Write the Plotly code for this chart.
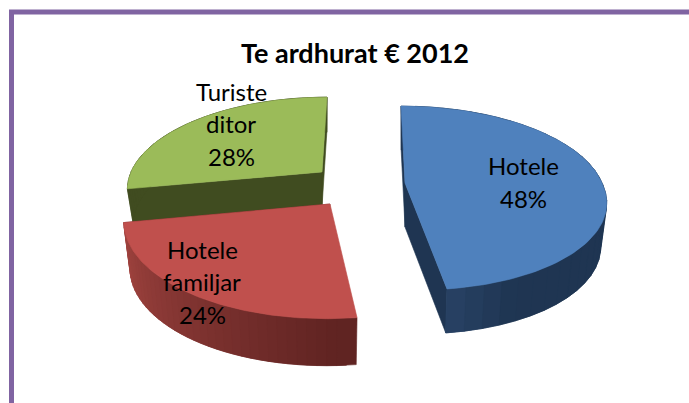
import numpy as np
import plotly.graph_objects as go

# Data
categories = ["Hotele", "Hotele familjar", "Turiste ditor"]
shares = [48, 24, 28]
chart_title = "Te ardhurat € 2012"

# Projection and style of each exploded slice (pixels on the 689x403 page)
K = 0.163
GEOM = [
    dict(cx=405, cy=183, rx=197, ry=89.5, s=-4.6, s_near=-10.6, depth=44),
    dict(cx=330, cy=204, rx=203, ry=96, s=2.8, s_near=2.8, depth=47),
    dict(cx=322, cy=172, rx=191, ry=87, s=5.8, s_near=5.8, depth=35),
]
TOP = ["#4F81BD", "#C0504D", "#9BBB59"]
WALL_A = [(42, 68, 104), (165, 70, 66), (64, 76, 32)]
WALL_B = [(31, 53, 82), (96, 36, 34), (64, 76, 32)]
FACE = ["#1F3552", "#632523", "#404C20"]
LABEL_POS = [(523, 182), (202, 281.5), (231, 123.5)]
LABEL_LINES = [["Hotele"], ["Hotele", "familjar"], ["Turiste", "ditor"]]
FONT = "Lato, Carlito, Calibri, sans-serif"
LINE_STEP = 32.5


def proj(g, theta, bottom=False):
    u, v = np.sin(theta), np.cos(theta)
    w = 1 + K * v
    sc = 0.97 if bottom else 1.0
    sh = np.where(v >= 0, g["s"], g["s_near"])
    x = g["cx"] + sc * (g["rx"] * u + sh * v) / w
    y = g["cy"] - g["ry"] * v / w + (g["depth"] if bottom else 0)
    return x, y


def poly(fig, xs, ys, color):
    xs, ys = [float(a) for a in xs], [float(a) for a in ys]
    fig.add_trace(go.Scatter(
        x=xs + [xs[0]], y=ys + [ys[0]], mode="lines", fill="toself",
        fillcolor=color, line=dict(color=color, width=0.6),
        hoverinfo="skip", showlegend=False))


def rgb(a, b, t):
    return "rgb(%d,%d,%d)" % tuple(a[i] + (b[i] - a[i]) * t for i in range(3))


fig = go.Figure()
edges = np.cumsum([0] + shares) / sum(shares) * 2 * np.pi
slices = [(i, edges[i], edges[i + 1]) for i in range(len(shares))]

for i, t0, t1 in [slices[2], slices[1], slices[0]]:
    g = GEOM[i]
    # cut faces
    apex_bot = (g["cx"], g["cy"] + g["depth"])
    for t in (t0, t1):
        if i == 1 and t == t0:
            continue
        x1, y1 = proj(g, t)
        x2, y2 = proj(g, t, True)
        poly(fig, [g["cx"], x1, x2, apex_bot[0]], [g["cy"], y1, y2, apex_bot[1]], FACE[i])
    # outer wall: overlapping strips so no seams show
    n = 36
    th = np.linspace(t0, t1, n + 1)
    for k in range(n - 1, -1, -1):
        tail = th[k:]
        xt, yt = proj(g, tail)
        xb, yb = proj(g, tail[::-1], True)
        if i == 0:
            f = min(1.0, (n - 1 - k) / (0.12 * n))
        elif i == 1:
            f = (n - 1 - k) / (n - 1)
        else:
            f = 0
        m = min(3, len(tail))
        poly(fig, list(xt[:m]) + list(xb[-m:]), list(yt[:m]) + list(yb[-m:]),
             rgb(WALL_A[i], WALL_B[i], f))
    # top surface
    th = np.linspace(t0, t1, 120)
    px, py = proj(g, th)
    poly(fig, [g["cx"]] + list(px), [g["cy"]] + list(py), TOP[i])

annotations = [dict(x=355, y=52, xref="x", yref="y", text="<b>%s</b>" % chart_title,
                    showarrow=False, font=dict(family=FONT, size=27, color="#000000"))]
for i, (lx, ly) in enumerate(LABEL_POS):
    lines = LABEL_LINES[i] + ["%d%%" % shares[i]]
    for j, line in enumerate(lines):
        annotations.append(dict(x=lx, y=ly + (j - (len(lines) - 1) / 2) * LINE_STEP,
                                xref="x", yref="y", text=line, showarrow=False,
                                font=dict(family=FONT, size=24, color="#000000")))

fig.update_layout(
    width=689, height=403, margin=dict(l=0, r=0, t=0, b=0),
    paper_bgcolor="#FFFFFF", plot_bgcolor="#FFFFFF", showlegend=False,
    xaxis=dict(range=[0, 689], visible=False, fixedrange=True),
    yaxis=dict(range=[403, 0], visible=False, fixedrange=True),
    annotations=annotations,
    shapes=[dict(type="path", path="M 11.5 410 L 11.5 12 L 700 12", xref="x", yref="y",
                 line=dict(color="#8064A2", width=5))],
)
fig.write_html("out.html", config=dict(displayModeBar=False),
               post_script="document.body.style.margin='0';document.body.style.overflow='hidden';")
